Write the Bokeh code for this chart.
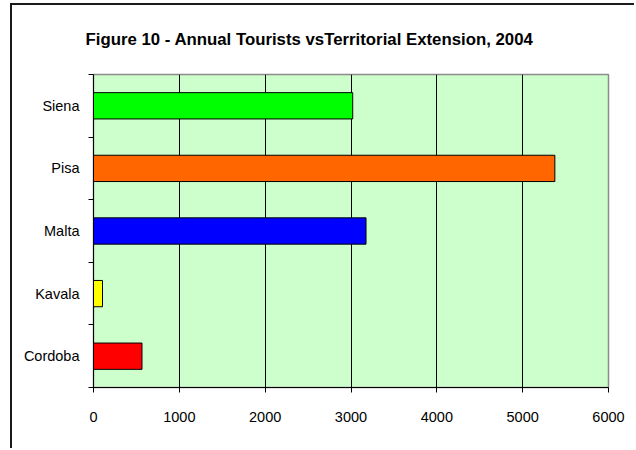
from bokeh.plotting import figure
from bokeh.models import FixedTicker, ColumnDataSource, Range1d
from bokeh.embed import file_html
from bokeh.resources import INLINE

# Data: annual tourists per city (bottom to top)
cities = ["Cordoba", "Kavala", "Malta", "Pisa", "Siena"]
tourists = [565, 105, 3175, 5375, 3020]
bar_colors = ["#FF0000", "#FFFF00", "#0000FF", "#FF6600", "#00FF00"]
x_ticks = [0, 1000, 2000, 3000, 4000, 5000, 6000]
title_text = "Figure 10 - Annual Tourists vsTerritorial Extension, 2004"

FONT = "Liberation Sans"

# One slot per city; bars sit in the middle of each slot
centers = [i + 0.5 for i in range(len(cities))]
bounds = list(range(len(cities) + 1))

source = ColumnDataSource(dict(city=cities, value=tourists, color=bar_colors, pos=centers))

p = figure(width=624, height=445, output_backend="svg", toolbar_location=None,
           x_range=Range1d(x_ticks[0], x_ticks[-1]), y_range=Range1d(0, len(cities)),
           min_border_left=81, min_border_right=28, min_border_top=69, min_border_bottom=63,
           margin=(3, 0, 0, 10))

# Outer chart frame (left and top edges)
p.styles = {"border-left": "2px solid #1A1A1A", "border-top": "2px solid #1A1A1A"}

p.title.text = title_text
p.title.align = "left"
p.title.vertical_align = "top"
p.title.offset = -8
p.title.standoff = 48
p.title.text_font = FONT
p.title.text_font_style = "bold"
p.title.text_font_size = "16.8px"
p.title.text_color = "black"

p.background_fill_color = "#CCFFCC"
p.border_fill_color = "white"
p.outline_line_color = "#8C8C8C"
p.outline_line_width = 1.5

p.hbar(y="pos", left=0, right="value", height=0.42, fill_color="color",
       line_color="black", line_width=1, source=source)

# Vertical grid lines
p.xgrid.ticker = FixedTicker(ticks=x_ticks[1:-1])
p.xgrid.grid_line_color = "black"
p.xgrid.grid_line_width = 1
p.ygrid.visible = False

# X axis
xa = p.xaxis[0]
xa.ticker = FixedTicker(ticks=x_ticks)
xa.major_tick_out = 5
xa.major_tick_in = 0
xa.minor_tick_out = 0
xa.minor_tick_in = 0
xa.axis_line_color = "black"
xa.major_tick_line_color = "black"
xa.major_label_text_font = FONT
xa.major_label_text_font_size = "14.5px"
xa.major_label_text_color = "black"
xa.major_label_standoff = 19

# Y axis: names centred in slots, ticks on slot boundaries
ya = p.yaxis[0]
ya.ticker = FixedTicker(ticks=centers, minor_ticks=bounds)
ya.major_label_overrides = {c: name for c, name in zip(centers, cities)}
ya.major_tick_out = 0
ya.major_tick_in = 0
ya.minor_tick_out = 5
ya.minor_tick_in = 0
ya.minor_tick_line_color = "black"
ya.axis_line_color = "black"
ya.major_label_text_font = FONT
ya.major_label_text_font_size = "14.5px"
ya.major_label_text_color = "black"
ya.major_label_standoff = 9

open("out.html", "w").write(file_html(p, INLINE))
